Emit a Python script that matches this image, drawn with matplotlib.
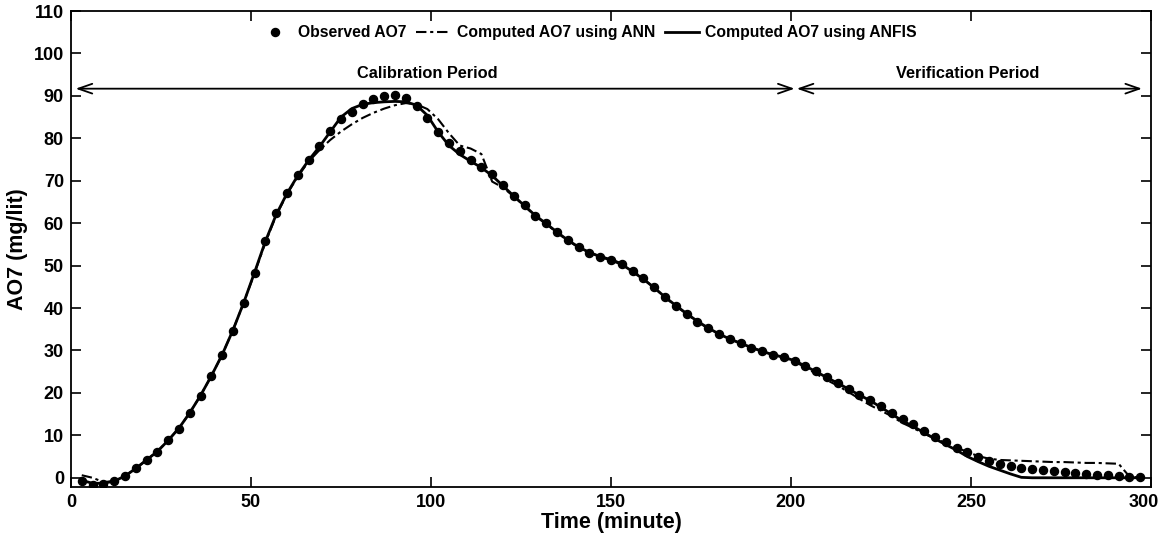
import numpy as np
import matplotlib
matplotlib.use("Agg")
import matplotlib.pyplot as plt
import matplotlib.transforms as mtransforms

plt.rcParams['font.family'] = ['Liberation Sans', 'DejaVu Sans']
plt.rcParams['font.weight'] = 'bold'

time = list(range(3, 300, 3))

observed = [-0.8, -1.7, -1.5, -0.7, 0.5, 2.3, 4.3, 6.1, 8.8, 11.6,
            15.2, 19.3, 24.0, 29.0, 34.7, 41.1, 48.2, 55.8, 62.3, 67.1,
            71.4, 74.9, 78.2, 81.8, 84.5, 86.3, 88.0, 89.2, 89.9, 90.2,
            89.4, 87.6, 84.9, 81.4, 78.8, 76.9, 74.9, 73.3, 71.5, 68.9,
            66.5, 64.2, 61.8, 60.0, 57.9, 56.0, 54.4, 53.0, 52.1, 51.4,
            50.4, 48.7, 47.0, 44.9, 42.6, 40.6, 38.7, 36.8, 35.3, 33.9,
            32.7, 31.8, 30.7, 29.8, 29.0, 28.5, 27.6, 26.4, 25.1, 23.7,
            22.4, 21.0, 19.6, 18.3, 16.9, 15.3, 13.8, 12.6, 11.1, 9.7,
            8.5, 7.1, 6.0, 4.9, 4.0, 3.3, 2.7, 2.3, 2.0, 1.8,
            1.6, 1.4, 1.2, 0.9, 0.7, 0.6, 0.5, 0.1, 0.1]

anfis = [-0.6, -1.3, -1.3, -0.8, 0.4, 2.2, 4.2, 6.2, 8.8, 11.7,
         15.3, 19.4, 24.0, 29.0, 34.8, 41.3, 48.4, 55.7, 62.0, 67.0,
         71.2, 74.8, 78.0, 81.5, 85.0, 87.0, 88.0, 88.4, 88.6, 88.7,
         88.6, 87.8, 85.4, 81.5, 78.3, 76.2, 74.6, 73.1, 71.2, 68.8,
         66.4, 64.1, 61.8, 59.9, 57.9, 56.0, 54.4, 53.1, 52.1, 51.3,
         50.3, 48.6, 46.8, 44.8, 42.6, 40.6, 38.7, 36.9, 35.3, 33.9,
         32.7, 31.7, 30.7, 29.8, 29.0, 28.4, 27.6, 26.3, 25.0, 23.6,
         22.3, 20.9, 19.5, 18.2, 16.6, 15.0, 13.4, 12.1, 10.6, 9.2,
         7.8, 6.5, 5.0, 3.8, 2.7, 1.8, 0.9, 0.1, 0.0, 0.0,
         0.0, 0.0, 0.0, 0.0, 0.0, 0.0, 0.0, 0.0, 0.0]

ann = [0.6, 0.0, -1.0, -0.8, 0.4, 2.2, 4.2, 6.2, 8.8, 11.7,
       15.3, 19.4, 24.0, 29.0, 34.8, 41.3, 48.2, 55.4, 61.8, 66.8,
       71.0, 74.5, 77.2, 79.6, 81.6, 83.3, 84.8, 86.0, 87.0, 87.8,
       88.3, 88.0, 86.9, 84.5, 81.2, 78.3, 77.6, 76.3, 69.8, 68.4,
       66.3, 64.0, 61.7, 59.8, 57.8, 55.9, 54.3, 53.1, 52.2, 51.5,
       50.5, 48.8, 46.9, 44.8, 42.5, 40.5, 38.6, 36.8, 35.2, 33.9,
       32.7, 31.7, 30.7, 29.8, 29.0, 28.4, 27.4, 26.0, 24.5, 23.0,
       21.7, 20.2, 18.6, 17.1, 15.8, 14.5, 12.9, 11.7, 10.4, 9.2,
       8.2, 7.1, 6.1, 5.1, 4.5, 4.2, 4.1, 4.0, 3.9, 3.8,
       3.7, 3.7, 3.6, 3.5, 3.5, 3.4, 3.3, 0.3, 0.0]

x_ticks = [0, 50, 100, 150, 200, 250, 300]
y_ticks = list(range(0, 111, 10))

fig = plt.figure(figsize=(11.63, 5.43), dpi=100)
ax = fig.add_axes([0.061, 0.1037, 0.9287, 0.876])

ax.plot(time, observed, 'o', color='black', markersize=5.8, label='Observed AO7', zorder=3)
ax.plot(time, ann, color='black', lw=1.5, linestyle=(0, (5, 1.8, 1.5, 1.8)),
        label='Computed AO7 using ANN', zorder=2)
ax.plot(time, anfis, color='black', lw=2.0, label='Computed AO7 using ANFIS', zorder=2)

ax.set_xlim(0, 300)
ax.set_ylim(-2.1, 110)
ax.set_xticks(x_ticks)
ax.set_yticks(y_ticks)
ax.tick_params(direction='in', length=7, width=1.2, top=True, right=True,
               labelsize=13, pad=5)
for lab in ax.get_xticklabels() + ax.get_yticklabels():
    lab.set_fontweight('bold')
# keep the last x tick label inside the canvas
last = ax.get_xticklabels()[-1]
last.set_transform(last.get_transform() +
                   mtransforms.ScaledTranslation(-5 / 72, 0, fig.dpi_scale_trans))
for s in ax.spines.values():
    s.set_linewidth(1.3)

ax.set_xlabel('Time (minute)', fontsize=15.5, fontweight='bold', labelpad=1)
ax.set_ylabel('AO7 (mg/lit)', fontsize=15.5, fontweight='bold', labelpad=4)

arrow_kw = dict(arrowstyle='<->,head_length=1.0,head_width=0.35', color='black', lw=1.3,
                shrinkA=0, shrinkB=0)
ax.annotate('', xy=(1.3, 91.7), xytext=(201.0, 91.7), arrowprops=arrow_kw)
ax.annotate('', xy=(201.6, 91.7), xytext=(297.5, 91.7), arrowprops=arrow_kw)
ax.text(99, 95.2, 'Calibration Period', ha='center', va='center', fontsize=11.8, fontweight='bold')
ax.text(249, 95.2, 'Verification Period', ha='center', va='center', fontsize=11.8, fontweight='bold')

leg = ax.legend(loc='center', bbox_to_anchor=(0.478, 0.954), ncol=3, frameon=False,
                handlelength=2.2, handletextpad=0.4, columnspacing=0.6,
                prop={'weight': 'bold', 'size': 11.3})

fig.savefig('out.png', dpi=100, facecolor='white')
